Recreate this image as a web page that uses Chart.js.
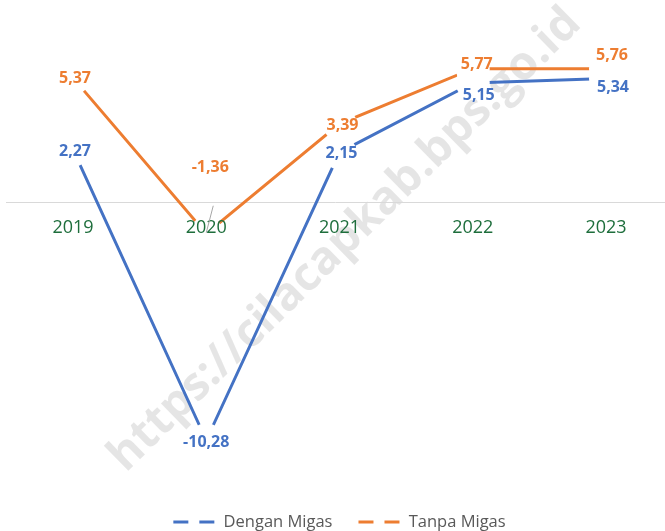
<!DOCTYPE html>
<html>
<head>
<meta charset="utf-8">
<script src="https://cdn.jsdelivr.net/npm/chart.js@4"></script>
<style>
  html, body { margin: 0; padding: 0; background: #fff; }
</style>
</head>
<body>
<canvas id="chart" width="665" height="531"></canvas>
<script>
"use strict";

const years = ["2019", "2020", "2021", "2022", "2023"];
const denganMigas = [2.27, -10.28, 2.15, 5.15, 5.34];
const tanpaMigas = [5.37, -1.36, 3.39, 5.77, 5.76];
const seriesNames = ["Dengan Migas", "Tanpa Migas"];

const blue = "#4472c4";
const orange = "#ed7d31";

// where each value label sits, relative to its point
const labelShift = [
  [[2, 2], [0, 2], [2, 1], [6, 12], [7, 9]],
  [[2, 1], [4, -66], [3, 2], [4, -4], [6, -13]],
];

// watermark + zero line, under the lines
const background = {
  id: "background",
  beforeDatasetsDraw(chart) {
    const ctx = chart.ctx;
    const text = "https://cilacapkab.bps.go.id";
    ctx.save();
    ctx.font = "bold 40px 'Open Sans'";
    const size = 40 * 640 / ctx.measureText(text).width;
    ctx.font = "bold " + size + "px 'Open Sans'";
    ctx.translate(345, 240);
    ctx.rotate(-44.4 * Math.PI / 180);
    ctx.fillStyle = "rgba(0, 0, 0, 0.1)";
    ctx.textAlign = "center";
    ctx.textBaseline = "middle";
    ctx.fillText(text, 0, 0);
    ctx.restore();

    const y0 = Math.round(chart.scales.y.getPixelForValue(0)) + 0.5;
    ctx.save();
    ctx.strokeStyle = "#d9d9d9";
    ctx.lineWidth = 1;
    ctx.beginPath();
    ctx.moveTo(6, y0);
    ctx.lineTo(665, y0);
    ctx.stroke();
    ctx.restore();
  },
};

const valueLabels = {
  id: "valueLabels",
  afterDraw(chart) {
    const ctx = chart.ctx;
    ctx.save();
    ctx.font = "bold 16px 'Open Sans'";
    ctx.textAlign = "center";
    ctx.textBaseline = "middle";
    chart.data.datasets.forEach((ds, i) => {
      const meta = chart.getDatasetMeta(i);
      meta.data.forEach((pt, j) => {
        const x = pt.x + labelShift[i][j][0];
        const y = pt.y + labelShift[i][j][1];
        if (labelShift[i][j][1] < -40) {
          // leader line back to the point
          ctx.strokeStyle = "#a6a6a6";
          ctx.lineWidth = 1;
          ctx.beginPath();
          ctx.moveTo(pt.x + 7, pt.y - 28);
          ctx.lineTo(pt.x, pt.y - 1);
          ctx.stroke();
        }
        ctx.fillStyle = ds.borderColor;
        ctx.fillText(ds.data[j].toFixed(2).replace(".", ","), x, y);
      });
    });
    ctx.restore();
  },
};

const config = {
  type: "line",
  data: {
    labels: years,
    datasets: [
      {
        label: seriesNames[0],
        data: denganMigas,
        borderColor: blue,
        backgroundColor: blue,
      },
      {
        label: seriesNames[1],
        data: tanpaMigas,
        borderColor: orange,
        backgroundColor: orange,
      },
    ],
  },
  options: {
    responsive: false,
    animation: false,
    events: [],
    layout: { padding: { left: 73, right: 59, top: 16, bottom: -9.25 } },
    elements: {
      line: { borderWidth: 3, tension: 0 },
      point: {
        radius: 17,
        hoverRadius: 17,
        borderWidth: 0,
        backgroundColor: "#ffffff",
      },
    },
    scales: {
      x: {
        type: "category",
        position: { y: 0 },
        offset: false,
        grid: { display: false, drawTicks: false },
        border: { display: false },
        ticks: {
          z: 1,
          padding: 15,
          color: "#1e6e3c",
          font: { family: "'Open Sans'", size: 18 },
        },
      },
      y: { display: false, min: -12.33, max: 8 },
    },
    plugins: {
      tooltip: { enabled: false },
      legend: {
        position: "bottom",
        labels: {
          usePointStyle: true,
          pointStyleWidth: 42,
          padding: 26,
          color: "#595959",
          font: { family: "'Open Sans'", size: 16.5 },
          generateLabels(chart) {
            const items = Chart.defaults.plugins.legend.labels.generateLabels(chart);
            items.forEach((item, i) => {
              const c = chart.data.datasets[i].borderColor;
              item.pointStyle = "line";
              item.lineDash = [15, 11];
              item.lineWidth = 3;
              item.strokeStyle = c;
              item.fillStyle = c;
            });
            return items;
          },
        },
      },
    },
  },
  plugins: [background, valueLabels],
};

// point fill must be white, not the series colour
config.data.datasets.forEach((ds) => {
  ds.pointBackgroundColor = "#ffffff";
  ds.pointBorderWidth = 0;
});

new Chart(document.getElementById("chart"), config);
</script>
</body>
</html>
